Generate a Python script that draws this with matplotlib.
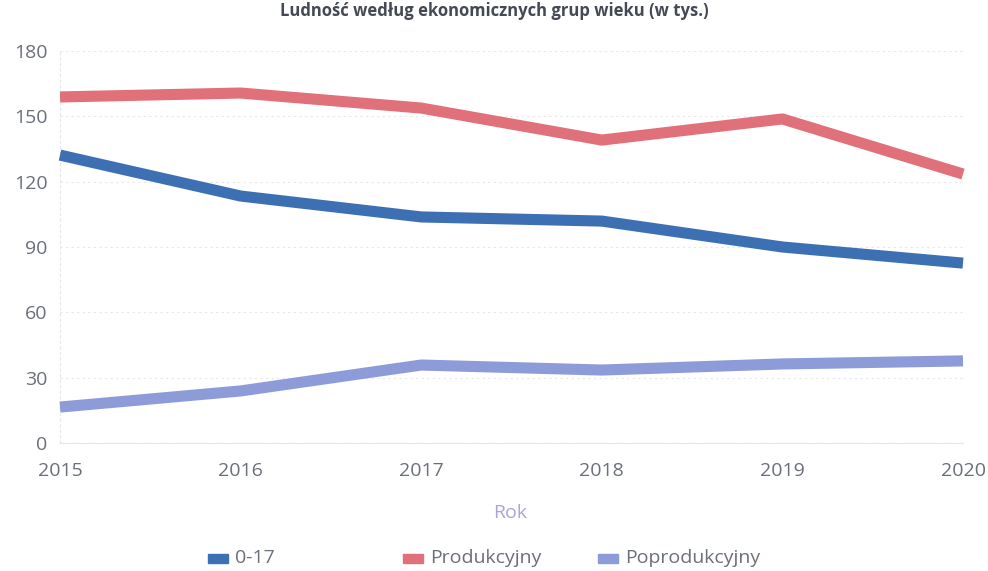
import matplotlib.pyplot as plt
from matplotlib.patches import Rectangle

plt.rcParams['font.family'] = ['Open Sans', 'DejaVu Sans']

# dane
years = [2015, 2016, 2017, 2018, 2019, 2020]
age_0_17 = [132.2, 113.4, 103.8, 101.9, 90.0, 82.6]
produkcyjny = [158.9, 160.7, 153.8, 139.1, 148.8, 123.5]
poprodukcyjny = [16.5, 23.9, 35.8, 33.5, 36.3, 37.7]

series_names = ['0-17', 'Produkcyjny', 'Poprodukcyjny']
colors = ['#3d6fb3', '#e0717a', '#8d9bd9']
yticks = [0, 30, 60, 90, 120, 150, 180]

fig = plt.figure(figsize=(9.88, 5.71), dpi=100)
ax = fig.add_axes([60 / 988, 128 / 571, 903 / 988, 392 / 571])

for vals, c in zip([age_0_17, produkcyjny, poprodukcyjny], colors):
    ax.plot(years, vals, color=c, lw=8, solid_capstyle='butt',
            solid_joinstyle='round', clip_on=False, zorder=3)

ax.set_xlim(2015, 2020)
ax.set_ylim(0, 180)
ax.set_yticks(yticks)
ax.set_xticks(years)
ax.tick_params(length=0, labelsize=14, labelcolor='#6b6f7a')
ax.tick_params(axis='y', pad=9)
ax.tick_params(axis='x', pad=14)
ax.yaxis.grid(True, ls=(0, (2, 3)), color='#e6e7ec', lw=0.8)
for s in ['top', 'right']:
    ax.spines[s].set_visible(False)
ax.spines['left'].set_color('#e6e7ec')
ax.spines['left'].set_linestyle((0, (2, 3)))
ax.spines['bottom'].set_color('#e6e7ec')
ax.spines['bottom'].set_linewidth(0.8)

fig.text(510 / 988, 1 - 513 / 571, 'Rok', ha='center', va='center',
         fontsize=14, color='#aaa4dc')

# tytuł
fig.text(0.5, 1 - 2 / 571, 'Ludność według ekonomicznych grup wieku (w tys.)',
         ha='center', va='top', fontsize=12, color='#444a55',
         fontweight='bold')

# legenda
leg_x = [208, 403, 598]
for name, c, lx in zip(series_names, colors, leg_x):
    fig.patches.append(Rectangle((lx / 988, 1 - 563 / 571), 20 / 988, 9 / 571,
                                 transform=fig.transFigure, color=c))
    fig.text((lx + 27) / 988, 1 - 558 / 571, name, ha='left', va='center',
             fontsize=14, color='#6b6f7a')

fig.savefig('out.png', dpi=100)
